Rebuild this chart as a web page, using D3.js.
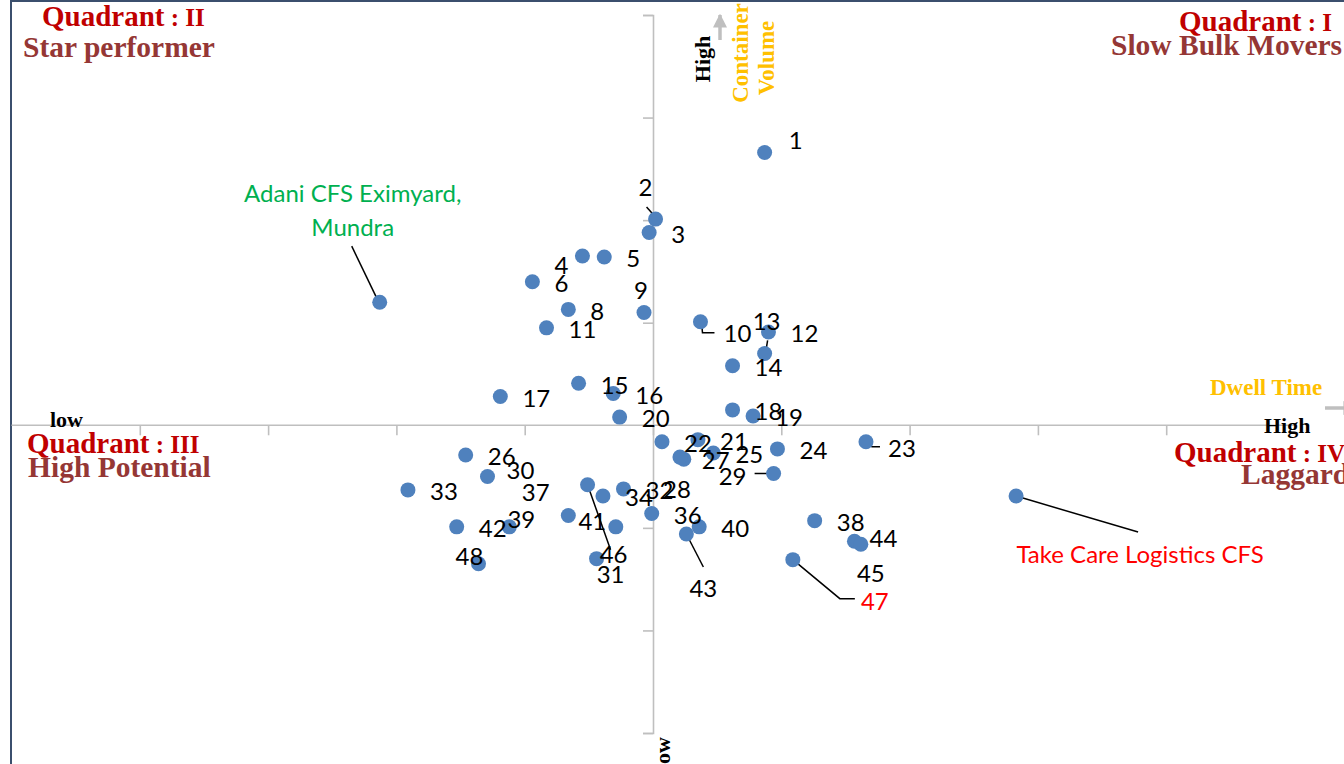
<!DOCTYPE html>
<html>
  <head>
    <title>CFS quadrant</title>
    <script src="https://cdn.jsdelivr.net/npm/d3@7/dist/d3.min.js"></script>
    <style>
    body { margin: 0; overflow: hidden; background: #fff; }
    .quad { font-family: "Liberation Serif", serif; font-weight: bold; }
    .qhead { fill: #c00000; font-size: 29px; }
    .qname { fill: #953735; font-size: 29.5px; }
    .axisword { font-family: "Liberation Serif", serif; font-weight: bold; font-size: 22px; fill: #000; }
    .axistitle { font-family: "Liberation Serif", serif; font-weight: bold; font-size: 23px; fill: #ffc000; }
    .lbl { font-family: Lato, sans-serif; font-size: 24px; fill: #000; }
    .axis path, .axis line { stroke: #bfbfbf; stroke-width: 1.6; }
    </style>
  </head>
  <body>
    <div id="chart"></div>
    <script>
    // terminal no. 1..48
    var terminals = [1,2,3,4,5,6,7,8,9,10,11,12,13,14,15,16,17,18,19,20,21,22,23,24,
                     25,26,27,28,29,30,31,32,33,34,35,36,37,38,39,40,41,42,43,44,45,46,47,48];
    // relative dwell time (x) and container volume (y)
    var dwellTime = [0.87,0.02,-0.03,-0.55,-0.38,-0.94,-2.13,-0.66,-0.07,0.37,-0.83,0.90,0.87,0.62,-0.58,-0.31,
                     -1.19,0.62,0.78,-0.26,0.35,0.07,1.66,0.97,0.47,-1.46,0.24,0.21,0.94,-1.29,-0.44,-0.23,
                     -1.91,-0.39,2.83,-0.01,-0.29,1.26,-1.12,0.36,-0.66,-1.53,0.26,1.57,1.62,-0.51,1.09,-1.36];
    var containerVolume = [2.66,2.01,1.88,1.65,1.64,1.40,1.20,1.13,1.10,1.01,0.95,0.91,0.70,0.58,0.41,0.31,
                     0.28,0.15,0.09,0.08,-0.14,-0.16,-0.16,-0.23,-0.27,-0.29,-0.33,-0.31,-0.47,-0.50,-1.30,-0.62,
                     -0.63,-0.69,-0.69,-0.86,-0.99,-0.93,-0.99,-0.99,-0.88,-0.99,-1.06,-1.13,-1.16,-0.58,-1.31,-1.35];
    // named terminals shown instead of their number
    var namedIds = [7, 35];
    var namedText = [["Adani CFS Eximyard,", "Mundra"], ["Take Care Logistics CFS"]];
    var xTicks = [-4,-3,-2,-1,0,1,2,3,4];
    var yTicks = [-3,-2,-1,0,1,2,3,4];

    var W = 1344, H = 764;

    // where each label sits relative to its point (px), default is to the right
    var labelOffset = {
      1:[31,-12], 2:[-10,-32], 3:[29,2], 4:[-21,10], 5:[29,2], 6:[29,2], 7:[-27,-109], 8:[29,2],
      9:[-3,-22], 10:[37,12], 13:[2,-32], 23:[36,7], 27:[32,1], 28:[-3,33], 29:[-41,3], 30:[33,-6],
      31:[14,16], 35:[124,59], 37:[-80,-34], 39:[12,-7], 41:[24,6], 43:[17,55], 44:[29,-3],
      45:[10,29], 46:[26,70], 47:[82,42], 48:[-9,-7]
    };
    // leader lines, px offsets from the point
    var leaders = {
      2:[[-9,-12],[-1,-3]], 10:[[1,0],[2,11],[14,11]], 13:[[1,-1],[3,-13]], 23:[[1,2],[6,5],[14,5]],
      29:[[-19,0],[-2,0]], 43:[[0,0],[17,33]], 46:[[0,0],[23,65]], 47:[[0,0],[47,39],[62,39]],
      35:[[0,0],[122,36]], 7:[[-2,-2],[-28,-56]]
    };
    var labelColor = {7:"#00b050", 35:"#ff0000", 47:"#ff0000"};

    var svg = d3.select("#chart").append("svg")
      .attr("width", W).attr("height", H);

    var x = d3.scaleLinear().domain([-5, 5]).range([11.5, 1294.5]);
    var y = d3.scaleLinear().domain([-3, 4]).range([733, 15]);

    // chart frame (right and bottom run past the window)
    svg.append("rect")
      .attr("x", 11).attr("y", 1).attr("width", 1500).attr("height", 900)
      .attr("fill", "none").attr("stroke", "#3b4f6d").attr("stroke-width", 2);

    svg.append("g")
      .attr("class", "axis")
      .attr("transform", "translate(0," + y(0) + ")")
      .call(d3.axisBottom(x).tickValues(xTicks).tickSize(10).tickSizeOuter(0).tickFormat(""))
      .select(".domain").attr("d", "M" + x(-5) + ",0H" + x(5));

    svg.append("g")
      .attr("class", "axis")
      .attr("transform", "translate(" + x(0) + ",0)")
      .call(d3.axisLeft(y).tickValues(yTicks).tickSize(10).tickSizeOuter(10).tickFormat(""));

    // arrows
    var defs = svg.append("defs");
    defs.append("marker").attr("id", "arr")
      .attr("viewBox", "0 0 10 10").attr("refX", 9).attr("refY", 5)
      .attr("markerWidth", 4).attr("markerHeight", 4).attr("orient", "auto")
      .append("path").attr("d", "M0,0L10,5L0,10z").attr("fill", "#bfbfbf");
    svg.append("line").attr("x1", 720).attr("y1", 40).attr("x2", 720).attr("y2", 15)
      .attr("stroke", "#bfbfbf").attr("stroke-width", 3.5).attr("marker-end", "url(#arr)");
    svg.append("line").attr("x1", 1325).attr("y1", 408).attr("x2", 1356).attr("y2", 408)
      .attr("stroke", "#bfbfbf").attr("stroke-width", 3.5).attr("marker-end", "url(#arr)");

    // axis words
    svg.append("text").attr("class", "axisword").attr("x", 50).attr("y", 427).text("low");
    svg.append("text").attr("class", "axisword").attr("x", 1264).attr("y", 433).text("High");
    svg.append("text").attr("class", "axistitle").attr("x", 1210).attr("y", 395).text("Dwell Time");
    svg.append("text").attr("class", "axisword").attr("text-anchor", "middle")
      .attr("transform", "translate(710,59) rotate(-90)").text("High");
    svg.append("text").attr("class", "axisword").attr("text-anchor", "end")
      .attr("transform", "translate(670,737) rotate(-90)").text("low");
    svg.append("text").attr("class", "axistitle").attr("text-anchor", "middle")
      .attr("transform", "translate(748,53) rotate(-90)").text("Container");
    svg.append("text").attr("class", "axistitle").attr("text-anchor", "middle")
      .attr("transform", "translate(774,58) rotate(-90)").text("Volume");

    // quadrant titles
    function quad(xp, yp, anchor, head, tail, name, xn, yn, anchorN) {
      var t = svg.append("text").attr("class", "quad qhead").attr("x", xp).attr("y", yp)
        .attr("text-anchor", anchor);
      t.append("tspan").text(head);
      t.append("tspan").style("font-size", "25px").text(tail);
      svg.append("text").attr("class", "quad qname").attr("x", xn).attr("y", yn)
        .attr("text-anchor", anchorN).text(name);
    }
    quad(42, 26, "start", "Quadrant", " : II", "Star performer", 23, 57, "start");
    quad(1332, 31, "end", "Quadrant", " : I", "Slow Bulk Movers", 1111, 55, "start");
    quad(27, 453, "start", "Quadrant", " : III", "High Potential", 28, 477, "start");
    quad(1174, 462, "start", "Quadrant", " : IV", "Laggard", 1241, 484, "start");

    var pts = terminals.map(function(id, i) {
      return { id: id, px: x(dwellTime[i]), py: y(containerVolume[i]) };
    });

    // leader lines
    var line = d3.line();
    svg.append("g").selectAll("path")
      .data(pts.filter(function(d) { return leaders[d.id]; }))
      .join("path")
      .attr("d", function(d) {
        return line(leaders[d.id].map(function(o) { return [d.px + o[0], d.py + o[1]]; }));
      })
      .attr("fill", "none").attr("stroke", "#000").attr("stroke-width", 1.5);

    svg.append("g").selectAll("circle")
      .data(pts).join("circle")
      .attr("cx", function(d) { return d.px; })
      .attr("cy", function(d) { return d.py; })
      .attr("r", 7.5)
      .attr("fill", "#4f81bd");

    var lbl = svg.append("g").selectAll("text")
      .data(pts).join("text")
      .attr("class", "lbl")
      .attr("text-anchor", "middle")
      .style("fill", function(d) { return labelColor[d.id] || "#000"; })
      .attr("x", function(d) { return d.px + (labelOffset[d.id] || [36, 2])[0]; })
      .attr("y", function(d) { return d.py + (labelOffset[d.id] || [36, 2])[1]; });

    lbl.each(function(d) {
      var k = namedIds.indexOf(d.id);
      var lines = k < 0 ? [String(d.id)] : namedText[k];
      var el = d3.select(this);
      lines.forEach(function(s, j) {
        el.append("tspan").attr("x", el.attr("x"))
          .attr("dy", j === 0 ? "0.35em" : "34px").text(s);
      });
    });
    </script>
  </body>
</html>
